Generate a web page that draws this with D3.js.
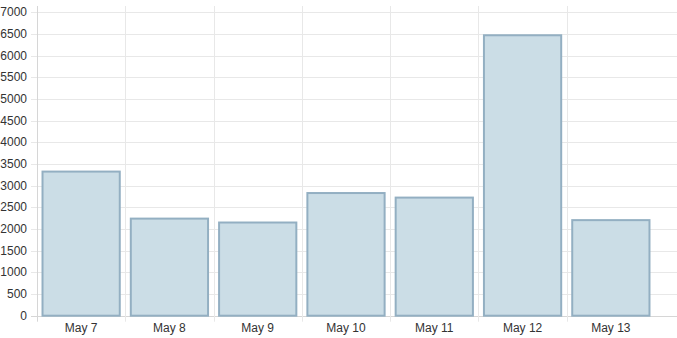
<!DOCTYPE html>
<html>
<head>
<meta charset="utf-8">
<script src="https://cdn.jsdelivr.net/npm/d3@7"></script>
<style>
  body { margin: 0; background: #fff; }
  .chart text { font-family: "Liberation Sans", Arial, sans-serif; font-size: 12px; fill: #333; }
</style>
</head>
<body>
<div class="chart"></div>
<script>
var days = ["May 7", "May 8", "May 9", "May 10", "May 11", "May 12", "May 13"];
var counts = [3325, 2240, 2150, 2830, 2725, 6470, 2205];
var yTicks = [0, 500, 1000, 1500, 2000, 2500, 3000, 3500, 4000, 4500, 5000, 5500, 6000, 6500, 7000];

var svgWidth = 677;
var svgHeight = 338;

var svg = d3.select(".chart")
  .append("svg")
  .attr("width", svgWidth)
  .attr("height", svgHeight);

// plot area (avoid "top", it clashes with window.top)
var plotLeft = 37, plotRight = 655, plotTop = 12.3, plotBottom = 315.7;

var x = d3.scaleBand()
  .domain(days)
  .range([plotLeft, plotRight])
  .paddingInner(0.125)
  .paddingOuter(0.0625);

var xBand = d3.scaleBand().domain(days).range([plotLeft, plotRight]);

var y = d3.scaleLinear()
  .domain([0, 7000])
  .range([plotBottom, plotTop]);

// horizontal grid lines + y tick marks
svg.append("g")
  .selectAll("line")
  .data(yTicks)
  .enter().append("line")
    .attr("x1", 31)
    .attr("x2", svgWidth)
    .attr("y1", function(d) { return Math.round(y(d)) + 0.5; })
    .attr("y2", function(d) { return Math.round(y(d)) + 0.5; })
    .attr("stroke", function(d) { return d === 0 ? "#d6d6d6" : "#e8e8e8"; });

// vertical grid lines at band edges
svg.append("g")
  .selectAll("line")
  .data(days)
  .enter().append("line")
    .attr("x1", function(d) { return Math.round(xBand(d)) + 0.5; })
    .attr("x2", function(d) { return Math.round(xBand(d)) + 0.5; })
    .attr("y1", 6)
    .attr("y2", plotBottom + 6)
    .attr("stroke", function(d, i) { return i === 0 ? "#d6d6d6" : "#e8e8e8"; });

// y labels
svg.append("g")
  .selectAll("text")
  .data(yTicks)
  .enter().append("text")
    .attr("x", 27)
    .attr("y", function(d) { return y(d) + 4; })
    .attr("text-anchor", "end")
    .text(function(d) { return d; });

// bars
svg.append("g")
  .selectAll("rect")
  .data(counts)
  .enter().append("rect")
    .attr("x", function(d, i) { return x(days[i]); })
    .attr("width", x.bandwidth())
    .attr("y", function(d) { return y(d); })
    .attr("height", function(d) { return plotBottom - y(d); })
    .attr("fill", "#cbdde6")
    .attr("stroke", "#93afc2")
    .attr("stroke-width", 2);

// x labels
svg.append("g")
  .selectAll("text")
  .data(days)
  .enter().append("text")
    .attr("x", function(d) { return xBand(d) + xBand.bandwidth() / 2; })
    .attr("y", 332)
    .attr("text-anchor", "middle")
    .text(function(d) { return d; });
</script>
</body>
</html>
